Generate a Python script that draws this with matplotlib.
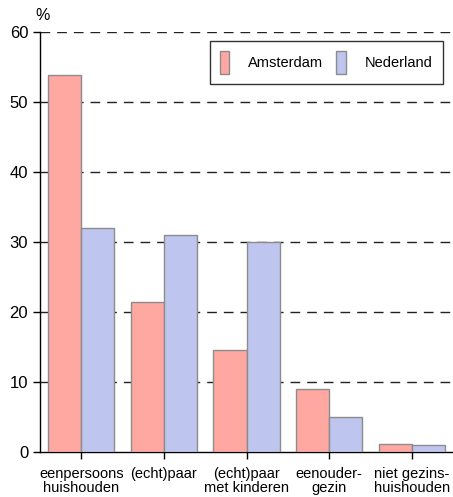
import numpy as np
import matplotlib
matplotlib.use('Agg')
import matplotlib.pyplot as plt

plt.rcParams['font.family'] = ['Liberation Sans', 'DejaVu Sans']

categories = ['eenpersoons\nhuishouden', '(echt)paar', '(echt)paar\nmet kinderen',
              'eenouder-\ngezin', 'niet gezins-\nhuishouden']
amsterdam = [53.9, 21.4, 14.6, 9.0, 1.1]
nederland = [32.0, 31.0, 30.0, 5.0, 1.0]
yticks = [0, 10, 20, 30, 40, 50, 60]

fig = plt.figure(figsize=(4.53, 4.97), dpi=100)
ax = fig.add_axes([40 / 453, 45 / 497, 413 / 453, 420 / 497])

x = np.arange(len(categories))
w = 0.4
ax.bar(x - w / 2, amsterdam, w, color='#ffa8a2', edgecolor='#8c8c8c', linewidth=1.0,
       label='Amsterdam', zorder=3)
ax.bar(x + w / 2, nederland, w, color='#bec5ee', edgecolor='#8c8c8c', linewidth=1.0,
       label='Nederland', zorder=3)

# dashed grid behind the bars
for yv in yticks[1:]:
    ax.axhline(yv, color='#222222', linewidth=1.0, linestyle=(0, (7, 5)), zorder=1)

ax.set_xlim(-0.5, 4.5)
ax.set_ylim(0, 60)
ax.set_yticks(yticks)
ax.set_xticks(x)
ax.set_xticklabels(categories, fontsize=10.5, linespacing=0.95)
ax.tick_params(axis='y', labelsize=12, length=5, width=1, direction='out')
ax.tick_params(axis='x', length=5, width=1, direction='out', pad=6)
for s in ['top', 'right']:
    ax.spines[s].set_visible(False)
ax.spines['left'].set_linewidth(1.0)
ax.spines['bottom'].set_linewidth(1.0)

fig.text(43 / 453, 1 - 15 / 497, '%', fontsize=11.5, ha='center', va='center')

leg = ax.legend(loc='upper right', bbox_to_anchor=(443 / 453, 1 - 41 / 497),
                bbox_transform=fig.transFigure, ncol=2, fontsize=10.5,
                frameon=True, fancybox=False, edgecolor='black',
                handlelength=0.65, handleheight=2.05, handletextpad=1.3,
                columnspacing=0.9, borderpad=0.7, borderaxespad=0)
leg.get_frame().set_linewidth(1.0)
leg.set_zorder(5)

fig.savefig('out.png', dpi=100)
